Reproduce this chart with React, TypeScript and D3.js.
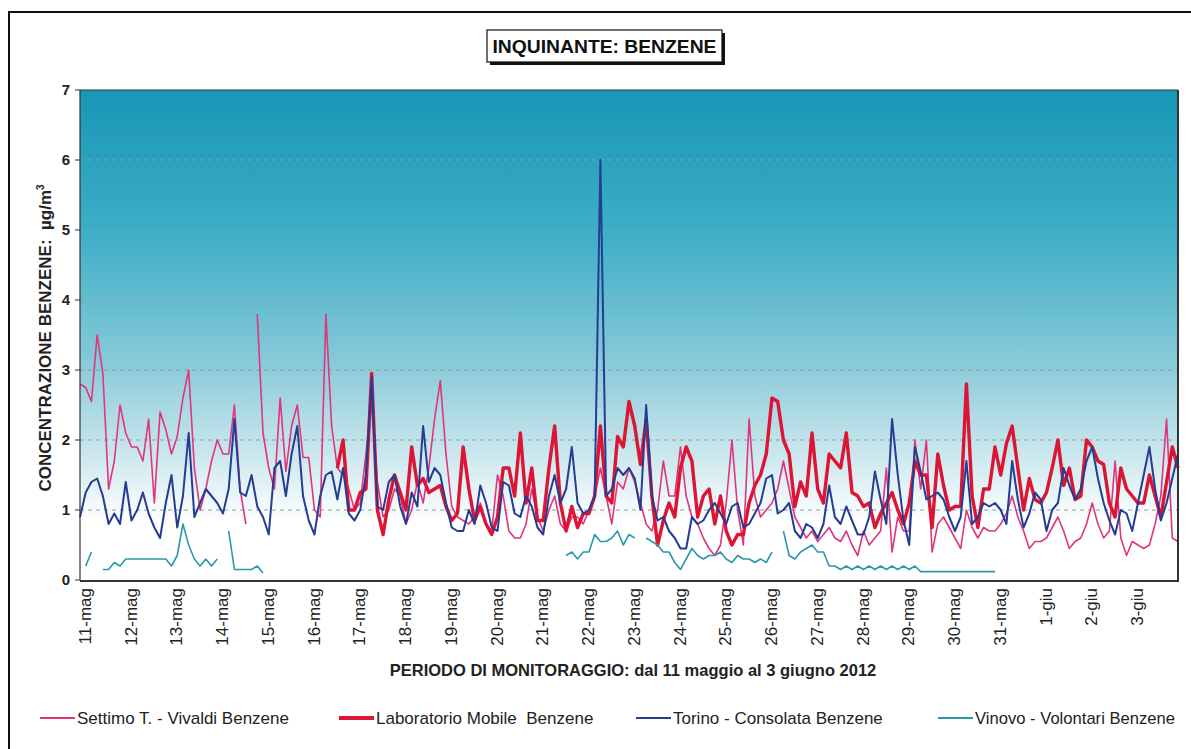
import React from 'react';
import * as d3 from 'd3';

const W = 1191;
const H = 749;

const dayLabels = ['11-mag','12-mag','13-mag','14-mag','15-mag','16-mag','17-mag','18-mag','19-mag','20-mag','21-mag','22-mag','23-mag','24-mag','25-mag','26-mag','27-mag','28-mag','29-mag','30-mag','31-mag','1-giu','2-giu','3-giu'];
const yTicks = [0, 1, 2, 3, 4, 5, 6, 7];
const STEP_HOURS = 3;
const TOTAL_HOURS = 576;

type V = number | null;

// Settimo T. - Vivaldi (3-hour readings)
const settimo: V[] = [
  2.8, 2.75, 2.55, 3.5, 2.95, 1.3, 1.7, 2.5,
  2.1, 1.9, 1.9, 1.7, 2.3, 1.1, 2.4, 2.15,
  1.8, 2.05, 2.6, 3.0, 1.6, 1.0, 1.3, 1.7,
  2.0, 1.8, 1.8, 2.5, 1.3, 0.8, null, 3.8,
  2.1, 1.6, 1.3, 2.6, 1.55, 2.2, 2.5, 1.75,
  1.75, 1.0, 0.9, 3.8, 2.2, 1.6, 1.5, 1.3,
  1.0, 1.1, 1.8, 2.6, 1.4, 0.9, 1.0, 1.3,
  1.2, 0.8, 1.0, 1.4, 1.1, 1.6, 2.3, 2.85,
  1.8, 1.05, 0.9, 0.85, 0.8, 0.9, 1.1, 0.8,
  0.7, 1.5, 1.2, 0.7, 0.6, 0.6, 0.8, 1.3,
  0.9, 0.7, 1.0, 1.2, 0.8, 0.7, 0.9, 0.9,
  0.8, 1.0, 1.2, 1.6, 1.2, 0.8, 1.4, 1.3,
  1.6, 1.4, 1.1, 0.8, 0.7, 1.0, 1.7, 1.2,
  1.2, 1.9, 1.2, 0.9, 0.8, 0.6, 0.45, 0.35,
  0.5, 1.1, 2.0, 1.0, 0.5, 2.3, 1.2, 0.9,
  1.0, 1.1, 1.3, 1.7, 1.3, 0.9, 0.75, 0.6,
  0.7, 0.55, 0.65, 0.75, 0.6, 0.55, 0.7, 0.5,
  0.35, 0.7, 0.5, 0.6, 0.7, 1.6, 0.4, 0.9,
  0.7, 0.7, 2.0, 1.3, 2.0, 0.4, 0.8, 0.9,
  0.75, 0.6, 0.45, 1.0, 0.75, 0.6, 0.75, 0.7,
  0.7, 0.8, 0.95, 1.2, 0.9, 0.7, 0.45, 0.55,
  0.55, 0.6, 0.75, 0.9, 0.7, 0.45, 0.55, 0.6,
  0.8, 1.1, 0.8, 0.6, 0.7, 1.7, 0.6, 0.35,
  0.55, 0.5, 0.45, 0.5, 0.8, 1.2, 2.3, 0.6,
  0.55,
];

// Laboratorio Mobile (3-hour readings)
const laboratorio: V[] = [
  null, null, null, null, null, null, null, null,
  null, null, null, null, null, null, null, null,
  null, null, null, null, null, null, null, null,
  null, null, null, null, null, null, null, null,
  null, null, null, null, null, null, null, null,
  null, null, null, null, null, 1.6, 2.0, 1.0,
  1.0, 1.25, 1.3, 2.95, 1.0, 0.65, 1.15, 1.5,
  1.25, 1.0, 1.9, 1.35, 1.45, 1.25, 1.3, 1.35,
  1.05, 0.85, 0.95, 1.9, 1.3, 0.85, 1.05, 0.8,
  0.65, 0.9, 1.6, 1.6, 1.2, 2.1, 1.1, 1.6,
  0.85, 0.85, 1.6, 2.2, 1.1, 0.7, 1.05, 0.75,
  0.95, 0.95, 1.2, 2.2, 1.2, 1.1, 2.05, 1.9,
  2.55, 2.2, 1.65, 2.3, 1.2, 0.5, 0.85, 1.1,
  0.9, 1.6, 1.9, 1.7, 0.9, 1.2, 1.3, 0.8,
  1.2, 0.7, 0.5, 0.65, 0.65, 1.1, 1.35, 1.5,
  1.8, 2.6, 2.55, 2.0, 1.8, 1.05, 1.4, 1.2,
  2.1, 1.3, 1.1, 1.8, 1.7, 1.6, 2.1, 1.25,
  1.2, 1.05, 1.1, 0.75, 0.95, 1.1, 1.25, 1.0,
  0.8, 1.1, 1.7, 1.5, 1.5, 0.75, 1.8, 1.35,
  1.0, 1.05, 1.05, 2.8, 1.2, 0.75, 1.3, 1.3,
  1.9, 1.5, 1.95, 2.2, 1.6, 1.0, 1.45, 1.15,
  1.1, 1.25, 1.6, 2.0, 1.35, 1.6, 1.15, 1.2,
  2.0, 1.9, 1.7, 1.65, 1.1, 0.9, 1.6, 1.3,
  1.2, 1.1, 1.1, 1.5, 1.2, 0.9, 1.4, 1.9,
  1.6,
];

// Torino - Consolata (3-hour readings)
const torino: V[] = [
  0.9, 1.25, 1.4, 1.45, 1.2, 0.8, 0.95, 0.8,
  1.4, 0.85, 1.0, 1.25, 0.95, 0.75, 0.6, 1.1,
  1.5, 0.75, 1.2, 2.1, 0.9, 1.1, 1.3, 1.2,
  1.1, 0.95, 1.3, 2.3, 1.25, 1.2, 1.5, 1.05,
  0.9, 0.65, 1.6, 1.7, 1.2, 1.8, 2.2, 1.2,
  0.85, 0.65, 1.2, 1.5, 1.55, 1.15, 1.6, 0.95,
  0.85, 1.0, 1.5, 2.9, 1.05, 1.0, 1.4, 1.5,
  1.05, 0.8, 1.25, 1.05, 2.2, 1.4, 1.6, 1.5,
  1.1, 0.75, 0.7, 0.7, 1.0, 0.8, 1.35, 1.1,
  0.75, 0.7, 1.4, 1.35, 0.95, 0.9, 1.2, 1.05,
  0.75, 0.65, 1.2, 1.5, 1.1, 1.3, 1.9, 1.1,
  0.95, 1.0, 1.2, 6.0, 1.2, 1.3, 1.6, 1.5,
  1.6, 1.45, 1.0, 2.5, 1.2, 0.85, 0.9, 0.7,
  0.6, 0.45, 0.45, 0.9, 0.8, 0.85, 1.0, 1.1,
  0.95, 0.8, 1.05, 1.1, 0.75, 0.8, 0.95, 1.1,
  1.45, 1.5, 0.95, 1.0, 1.1, 0.7, 0.6, 0.8,
  0.75, 0.6, 0.8, 1.35, 0.9, 0.8, 1.05, 0.85,
  0.65, 0.65, 0.9, 1.55, 1.15, 0.8, 2.3, 1.5,
  0.85, 0.5, 1.9, 1.55, 1.15, 1.2, 1.25, 1.15,
  0.9, 0.7, 0.9, 1.7, 0.8, 0.9, 1.1, 1.05,
  1.1, 1.0, 0.8, 1.7, 1.15, 0.75, 0.95, 1.25,
  1.15, 0.7, 1.0, 1.1, 1.6, 1.35, 1.15, 1.3,
  1.7, 1.9, 1.45, 1.1, 0.85, 0.65, 1.0, 0.95,
  0.7, 1.1, 1.5, 1.9, 1.3, 0.85, 1.1, 1.45,
  1.8,
];

// Vinovo - Volontari (3-hour readings)
const vinovo: V[] = [
  null, 0.2, 0.4, null, 0.15, 0.15, 0.25, 0.2,
  0.3, 0.3, 0.3, 0.3, 0.3, 0.3, 0.3, 0.3,
  0.2, 0.35, 0.8, 0.5, 0.3, 0.2, 0.3, 0.2,
  0.3, null, 0.7, 0.15, 0.15, 0.15, 0.15, 0.2,
  0.1, null, null, null, null, null, null, null,
  null, null, null, null, null, null, null, null,
  null, null, null, null, null, null, null, null,
  null, null, null, null, null, null, null, null,
  null, null, null, null, null, null, null, null,
  null, null, null, null, null, null, null, null,
  null, null, null, null, null, 0.35, 0.4, 0.3,
  0.4, 0.4, 0.65, 0.55, 0.55, 0.6, 0.7, 0.5,
  0.65, 0.6, null, 0.6, 0.55, 0.5, 0.4, 0.4,
  0.25, 0.15, 0.3, 0.45, 0.35, 0.3, 0.35, 0.35,
  0.4, 0.3, 0.25, 0.35, 0.3, 0.3, 0.25, 0.3,
  0.25, 0.4, null, 0.7, 0.35, 0.3, 0.4, 0.45,
  0.5, 0.4, 0.4, 0.2, 0.2, 0.15, 0.2, 0.15,
  0.2, 0.15, 0.2, 0.15, 0.2, 0.15, 0.2, 0.15,
  0.2, 0.15, 0.2, 0.12, 0.12, 0.12, 0.12, 0.12,
  0.12, 0.12, 0.12, 0.12, 0.12, 0.12, 0.12, 0.12,
  0.12, null, null, null, null, null, null, null,
  null, null, null, null, null, null, null, null,
  null, null, null, null, null, null, null, null,
  null, null, null, null, null, null, null, null,
  null,
];

const seriesNames = ['Settimo T. - Vivaldi Benzene', 'Laboratorio Mobile\u00a0 Benzene', 'Torino - Consolata Benzene', 'Vinovo - Volontari Benzene'];
const seriesColors = ['#e0357c', '#dc1534', '#243c94', '#2a98ad'];
const seriesWidths = [1.6, 3.4, 2.0, 1.6];

const FONT = "'Liberation Sans', Arial, sans-serif";

export default function App() {
  const left = 80, right = 1178, top = 90, bottom = 580;
  const x = d3.scaleLinear().domain([0, TOTAL_HOURS]).range([left, right]);
  const y = d3.scaleLinear().domain([0, 7]).range([bottom, top]);
  const line = d3.line<V>()
    .defined((d) => d !== null)
    .x((_, i) => x(i * STEP_HOURS))
    .y((d) => y(d as number));

  const allSeries = [settimo, laboratorio, torino, vinovo];
  const legendX = [40, 339, 636, 938];

  return (
    <svg width={W} height={H} style={{ position: 'absolute', left: 0, top: 0, background: '#fff' }} fontFamily={FONT}>
      <defs>
        <linearGradient id="bg" x1="0" y1="0" x2="0" y2="1">
          <stop offset="0%" stopColor="#1796b6" />
          <stop offset="30%" stopColor="#3fafc7" />
          <stop offset="55%" stopColor="#86c9d8" />
          <stop offset="75%" stopColor="#cde8ee" />
          <stop offset="88%" stopColor="#ffffff" />
          <stop offset="100%" stopColor="#ffffff" />
        </linearGradient>
      </defs>
      {/* outer frame */}
      <path d={`M9,${H + 5} L9,12 L${W + 5},12`} fill="none" stroke="#111" strokeWidth={2} />

      {/* title box */}
      <rect x={490} y={33} width={235} height={32} fill="#111" />
      <rect x={487} y={30} width={235} height={32} fill="#fff" stroke="#111" strokeWidth={1.2} />
      <text x={604.5} y={53} textAnchor="middle" fontSize={19} fontWeight="bold" fill="#111" textLength={224} lengthAdjust="spacingAndGlyphs">INQUINANTE: BENZENE</text>

      {/* plot background */}
      <rect x={left} y={top} width={right - left} height={bottom - top} fill="url(#bg)" />

      {/* grid */}
      {yTicks.filter((t) => t > 0 && t < 7).map((t) => (
        <line key={t} x1={left} x2={right} y1={y(t)} y2={y(t)} stroke="#8e9ea4" strokeWidth={1} strokeDasharray="4,4" />
      ))}

      {/* series */}
      {allSeries.map((s, k) => (
        <path key={k} d={line(s) || ''} fill="none" stroke={seriesColors[k]} strokeWidth={seriesWidths[k]} strokeLinejoin="round" />
      ))}

      {/* plot borders */}
      <line x1={left} x2={right} y1={top} y2={top} stroke="#333" strokeWidth={1} />
      <line x1={left} x2={left} y1={top} y2={bottom} stroke="#333" strokeWidth={1.2} />
      <line x1={right} x2={right} y1={top} y2={bottom + 1} stroke="#333" strokeWidth={2} />
      <line x1={left} x2={right + 1} y1={bottom + 1} y2={bottom + 1} stroke="#333" strokeWidth={2} />

      {/* y ticks */}
      {yTicks.map((t) => (
        <g key={t}>
          <line x1={left - 5} x2={left} y1={y(t)} y2={y(t)} stroke="#333" strokeWidth={1} />
          <text x={left - 10} y={y(t)} dy="0.35em" textAnchor="end" fontSize={15} fontWeight="bold" fill="#222">{t}</text>
        </g>
      ))}

      {/* x labels */}
      {dayLabels.map((lab, i) => {
        const px = x(i * 24) + 5;
        return (
          <text key={lab} transform={`translate(${px},588) rotate(-90)`} dy="0.35em" textAnchor="end" fontSize={17} fill="#222">{lab}</text>
        );
      })}

      {/* axis titles */}
      <text transform={`translate(45,338) rotate(-90)`} dy="0.35em" textAnchor="middle" fontSize={17} fontWeight="bold" fill="#222">
        CONCENTRAZIONE BENZENE:{'\u00a0 '}µg/m<tspan dy="-7" fontSize={10}>3</tspan>
      </text>
      <text x={633} y={676} textAnchor="middle" fontSize={16.5} fontWeight="bold" fill="#222">PERIODO DI MONITORAGGIO: dal 11 maggio al 3 giugno 2012</text>

      {/* legend */}
      {seriesNames.map((n, k) => (
        <g key={n}>
          <line x1={legendX[k]} x2={legendX[k] + 35} y1={718} y2={718} stroke={seriesColors[k]} strokeWidth={k === 1 ? 4 : 2} />
          <text x={legendX[k] + 37} y={718} dy="0.35em" fontSize={17} fill="#222" textLength={k === 3 ? 200 : undefined} lengthAdjust="spacingAndGlyphs">{n}</text>
        </g>
      ))}
    </svg>
  );
}
